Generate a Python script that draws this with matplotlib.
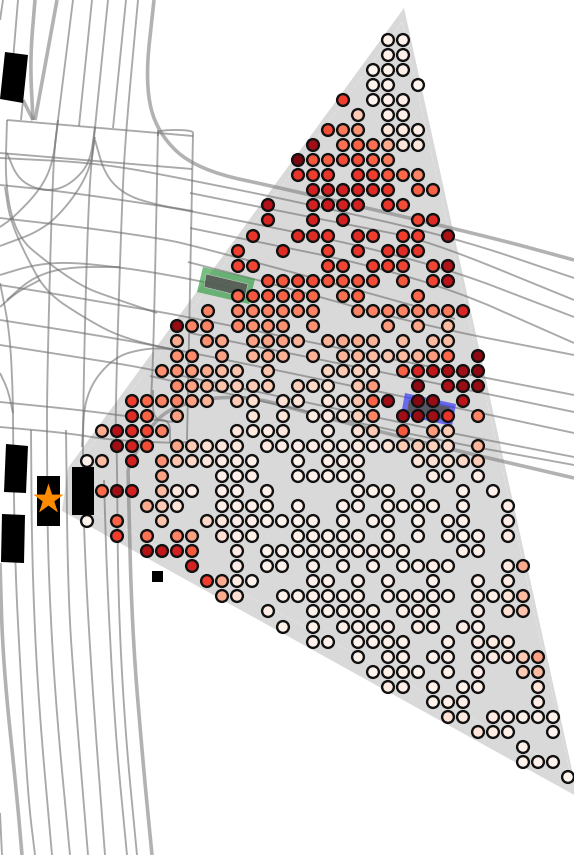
import numpy as np
import matplotlib
matplotlib.use('Agg')
import matplotlib.pyplot as plt
from matplotlib.patches import Polygon

# every position is in picture pixels, the axes simply run 0-574 / 855-0
row_y = [40, 55, 70, 85, 100, 115, 130, 145, 160, 175, 190, 205, 220, 236, 251, 266, 281, 296, 311, 326,
         341, 356, 371, 386, 401, 416, 431, 446, 461, 476, 491, 506, 521, 536, 551, 566, 581, 596, 611, 627,
         642, 657, 672, 687, 702, 717, 732, 747, 762, 777]

row_x = [
    [388, 403],
    [388, 403],
    [373, 388, 403],
    [373, 388, 418],
    [343, 373, 388, 403],
    [358, 388, 403],
    [328, 343, 358, 388, 403, 418],
    [313, 343, 358, 373, 388, 403, 418],
    [298, 313, 328, 343, 358, 373, 388],
    [298, 313, 328, 358, 373, 388, 403, 418],
    [313, 328, 343, 358, 373, 388, 418, 433],
    [268, 313, 328, 343, 358, 388, 403],
    [268, 313, 343, 418, 433],
    [253, 298, 313, 328, 358, 373, 403, 418, 448],
    [238, 283, 328, 358, 388, 403, 418],
    [238, 253, 328, 343, 373, 388, 403, 433, 448],
    [268, 283, 298, 313, 328, 343, 358, 373, 403, 433, 448],
    [238, 253, 268, 283, 298, 313, 343, 358, 418],
    [208, 238, 253, 268, 283, 298, 313, 358, 373, 388, 403, 418, 433, 448, 463],
    [177, 192, 207, 238, 253, 268, 283, 313, 388, 418, 448],
    [177, 207, 222, 253, 268, 283, 298, 328, 343, 358, 373, 403, 433, 448],
    [177, 192, 222, 253, 268, 283, 313, 343, 358, 373, 388, 403, 418, 433, 448, 478],
    [162, 177, 192, 207, 222, 237, 268, 328, 343, 358, 373, 403, 418, 433, 448, 463, 478],
    [177, 192, 207, 222, 237, 253, 268, 298, 313, 328, 358, 373, 418, 448, 463, 478],
    [132, 147, 162, 177, 192, 207, 237, 253, 283, 298, 328, 343, 358, 373, 388, 418, 433, 463],
    [132, 147, 177, 253, 283, 313, 328, 343, 358, 373, 403, 418, 433, 448, 478],
    [102, 117, 132, 147, 162, 237, 253, 268, 283, 328, 358, 373, 403, 433, 448],
    [117, 132, 147, 177, 192, 207, 222, 237, 267, 282, 298, 313, 328, 343, 358, 373, 388, 403, 418, 433, 448, 478],
    [87, 102, 132, 162, 177, 192, 207, 222, 237, 252, 298, 328, 343, 358, 418, 433, 448, 463, 478],
    [162, 222, 237, 252, 298, 313, 328, 343, 358, 433, 448, 478],
    [102, 117, 132, 162, 177, 192, 222, 237, 267, 358, 373, 388, 418, 463, 493],
    [147, 162, 177, 222, 237, 252, 267, 298, 343, 358, 388, 403, 418, 433, 463, 508],
    [87, 117, 162, 207, 222, 237, 252, 267, 282, 298, 313, 343, 373, 388, 418, 448, 463, 508],
    [117, 147, 177, 192, 222, 237, 252, 298, 313, 328, 343, 358, 388, 418, 448, 463, 478, 508],
    [147, 162, 177, 192, 237, 267, 282, 298, 313, 328, 343, 358, 373, 388, 403, 463, 478],
    [192, 237, 267, 282, 313, 343, 373, 403, 418, 433, 448, 508, 523],
    [207, 222, 237, 252, 313, 328, 358, 388, 433, 478, 508],
    [222, 237, 283, 298, 313, 328, 343, 358, 388, 403, 418, 433, 448, 478, 493, 508, 523],
    [268, 313, 328, 343, 358, 373, 403, 418, 433, 478, 508, 523],
    [283, 313, 343, 358, 373, 388, 418, 433, 463, 478],
    [313, 328, 358, 373, 388, 403, 448, 478, 493, 508],
    [358, 388, 403, 433, 448, 478, 493, 508, 523, 538],
    [373, 388, 403, 418, 448, 478, 523, 538],
    [388, 403, 433, 463, 478, 538],
    [433, 448, 463, 538],
    [448, 463, 493, 508, 523, 538, 553],
    [478, 493, 508, 553],
    [523],
    [523, 538, 553],
    [568],
]

row_v = [
    [.03, .02],
    [.03, .03],
    [.01, .02, .03],
    [.02, .02, .01],
    [.62, .01, .03, .04],
    [.2, .03, .03],
    [.58, .45, .38, .1, .06, .05],
    [.88, .48, .52, .48, .3, .1, .08],
    [.95, .55, .53, .58, .58, .52, .45],
    [.65, .62, .65, .65, .62, .55, .5, .42],
    [.72, .72, .72, .7, .68, .65, .52, .52],
    [.83, .72, .75, .72, .72, .65, .58],
    [.7, .72, .72, .6, .68],
    [.65, .68, .68, .65, .68, .62, .62, .62, .85],
    [.62, .68, .62, .65, .65, .68, .65],
    [.6, .6, .6, .6, .62, .62, .6, .6, .83],
    [.58, .55, .58, .58, .55, .55, .55, .58, .55, .6, .8],
    [.5, .55, .55, .52, .52, .5, .48, .52, .5],
    [.42, .42, .42, .42, .42, .42, .42, .42, .42, .42, .42, .42, .42, .45, .7],
    [.9, .42, .42, .42, .38, .38, .38, .38, .35, .32, .25],
    [.3, .38, .32, .33, .33, .33, .28, .28, .3, .3, .27, .25, .25, .25],
    [.38, .4, .33, .28, .3, .28, .28, .27, .27, .25, .22, .25, .28, .35, .5, .92],
    [.38, .38, .35, .3, .25, .22, .22, .17, .2, .18, .15, .52, .7, .78, .85, .88, .92],
    [.4, .33, .27, .22, .2, .2, .2, .18, .15, .12, .22, .35, .92, .85, .9, .9],
    [.62, .5, .42, .42, .33, .27, .2, .13, .12, .1, .08, .12, .22, .52, .88, .93, .9, .8],
    [.68, .52, .33, .1, .1, .05, .07, .1, .18, .42, .88, .9, .88, .65, .42],
    [.3, .82, .68, .6, .43, .08, .06, .05, .08, .05, .12, .2, .55, .35, .2],
    [.88, .72, .58, .32, .2, .12, .08, .08, .06, .05, .04, .05, .05, .05, .06, .07, .1, .2, .2, .18, .15, .27],
    [.03, .25, .72, .38, .22, .15, .08, .05, .05, .03, .02, .03, .03, .04, .1, .12, .1, .15, .2],
    [.33, .03, .03, .04, .02, .02, .02, .02, .02, .05, .05, .05],
    [.5, .88, .72, .25, .08, .04, .03, .02, .03, .02, .02, .02, .02, .02, .02],
    [.3, .2, .1, .03, .03, .03, .02, .02, .02, .03, .03, .02, .02, .02, .02, .05],
    [.01, .52, .22, .15, .08, .04, .03, .02, .01, .02, .02, .02, .02, .02, .02, .02, .02, .05],
    [.62, .48, .42, .33, .12, .04, .03, .02, .02, .02, .03, .03, .02, .02, .02, .02, .03, .06],
    [.82, .78, .72, .55, .06, .02, .02, .02, .02, .02, .02, .03, .03, .02, .02, .02, .03],
    [.72, .05, .02, .02, .03, .02, .02, .02, .03, .03, .02, .07, .3],
    [.62, .3, .06, .02, .03, .03, .03, .03, .02, .03, .06],
    [.3, .12, .02, .02, .02, .02, .02, .02, .03, .03, .03, .03, .02, .05, .03, .1, .25],
    [.05, .02, .02, .02, .02, .02, .03, .03, .02, .05, .12, .22],
    [.02, .02, .04, .03, .03, .04, .05, .03, .05, .03],
    [.03, .02, .02, .02, .03, .02, .03, .05, .06, .06],
    [.02, .04, .03, .02, .03, .05, .06, .08, .2, .33],
    [.01, .03, .03, .01, .02, .03, .2, .25],
    [.06, .04, .02, .02, .03, .1],
    [.02, .03, .04, .05],
    [.12, .07, .06, .04, .02, .03, .02],
    [.1, .05, .03, .01],
    [.02],
    [.02, .03, .02],
    [.01],
]

# field of view
fov_outer = [(404, 8), (578, 797), (62, 511), (68, 468)]
fov_inner = [(402, 22), (570, 772), (84, 506), (74, 470)]

# road centre lines
thin_roads = [
    [(18, 0), (13, 60)],
    [(3, 0), (0, 20)],
    [(21, 120), (23, 100)],
    [(7, 120), (193, 136)],
    [(158, 136), (158, 130), (193, 130), (193, 136), (187, 440)],
    [(73, 0), (58, 120), (53, 160), (47, 380), (47, 460), (48, 563), (55, 697), (70, 855)],
    [(92, 0), (79, 126)],
    [(108, 0), (95, 127), (88, 200), (82, 450), (85, 563), (93, 697), (105, 855)],
    [(126, 0), (113, 128)],
    [(138, 0), (126, 130), (122, 200), (115, 420), (117, 447), (118, 597), (125, 730), (137, 855)],
    [(158, 130), (155, 280), (153, 360), (151, 400)],
    [(7, 120), (5, 187), (17, 237), (48, 263), (83, 287), (110, 297), (157, 313)],
    [(5, 187), (10, 220), (28, 260), (47, 293), (83, 317), (120, 337), (173, 350)],
    [(7, 153), (17, 177), (33, 188), (53, 191), (72, 183), (90, 163), (95, 127)],
    [(58, 120), (53, 163), (40, 190), (13, 218), (0, 227)],
    [(95, 137), (90, 170), (70, 203), (43, 230), (0, 246)],
    [(95, 140), (105, 175), (125, 195), (157, 205), (193, 211)],
    [(0, 153), (192, 169)],
    [(0, 158), (100, 163), (190, 180), (303, 203), (453, 237), (574, 278)],
    [(190, 193), (360, 227), (427, 240), (574, 300)],
    [(0, 185), (50, 190), (122, 200), (193, 211), (420, 258), (574, 317)],
    [(190, 228), (420, 275), (574, 343)],
    [(0, 218), (88, 228), (157, 238), (192, 245), (420, 307), (455, 319)],
    [(188, 262), (277, 285), (420, 325), (574, 355)],
    [(0, 275), (33, 265), (67, 262), (117, 267), (157, 273), (205, 282), (248, 292)],
    [(7, 300), (33, 277), (67, 267), (120, 267)],
    [(0, 285), (50, 293), (107, 303), (190, 317), (420, 365), (574, 395)],
    [(0, 320), (83, 333), (170, 348), (453, 407), (574, 433)],
    [(190, 333), (420, 380), (574, 412)],
    [(0, 345), (83, 358), (157, 370), (420, 427), (574, 457)],
    [(150, 376), (420, 437), (574, 465)],
    [(82, 447), (85, 393), (113, 357), (147, 348), (173, 349)],
    [(0, 402), (80, 410), (133, 417), (173, 422)],
    [(0, 427), (67, 433), (110, 440), (170, 443), (190, 442)],
    [(153, 390), (153, 420), (170, 420), (170, 443)],
    [(0, 283), (10, 333), (13, 400), (13, 430), (15, 563), (20, 663), (28, 797), (35, 855)],
    [(0, 307), (17, 292), (40, 280)],
    [(0, 373), (8, 390), (13, 413)],
    [(31, 430), (32, 563), (38, 697), (52, 855)],
    [(66, 430), (68, 597), (75, 697), (88, 855)],
    [(104, 480), (107, 580), (115, 730), (127, 855)],
    [(0, 813), (2, 855)],
]
thick_roads = [
    [(35, 0), (30, 60), (33, 120)],
    [(57, 0), (43, 77), (35, 120)],
    [(23, 100), (33, 120)],
    [(154, 0), (145, 83), (157, 133), (197, 170), (290, 190), (490, 237), (574, 260)],
    [(128, 470), (133, 457), (153, 423), (173, 407), (213, 397), (257, 398), (297, 410), (420, 442), (574, 478)],
    [(128, 470), (132, 630), (143, 763), (152, 855)],
    [(0, 563), (3, 663), (17, 797), (22, 855)],
]

green_box = [(203, 267), (255, 279), (249, 304), (197, 292)]
green_car = [(206, 274), (248, 284), (245, 297), (204, 287)]
blue_box = [(405, 393), (456, 404), (452, 426), (401, 415)]
blue_car = [(409, 400), (450, 407), (447, 420), (407, 413)]
black_cars = [
    [(5, 52), (28, 55), (23, 103), (0, 99)],
    [(6, 444), (28, 446), (26, 493), (4, 492)],
    [(37, 476), (60, 476), (60, 526), (37, 526)],
    [(72, 467), (94, 467), (94, 515), (72, 515)],
    [(2, 514), (25, 515), (24, 563), (1, 562)],
    [(152, 571), (163, 571), (163, 582), (152, 582)],
]
ego_x = 48
ego_y = 499


def smooth(pts, n=3):
    # chaikin corner cutting, ends stay where they are
    pts = np.array(pts, dtype=float)
    for _ in range(n):
        q = pts[:-1] * 0.75 + pts[1:] * 0.25
        r = pts[:-1] * 0.25 + pts[1:] * 0.75
        mid = np.empty((len(q) * 2, 2))
        mid[0::2] = q
        mid[1::2] = r
        pts = np.vstack([pts[:1], mid, pts[-1:]])
    return pts


fig = plt.figure(figsize=(5.74, 8.55), dpi=100)
ax = fig.add_axes([0, 0, 1, 1])
ax.set_xlim(0, 574)
ax.set_ylim(855, 0)
ax.axis('off')

ax.add_patch(Polygon(fov_outer, closed=True, fc='#d9d9d9', ec='none', zorder=1))
ax.add_patch(Polygon(fov_inner, closed=True, fc='none', ec='white', lw=0.5, alpha=0.35, ls=(0, (6, 2)), zorder=1.5))

for road in thin_roads:
    p = smooth(road)
    ax.plot(p[:, 0], p[:, 1], color='#707070', lw=1.35, alpha=0.6, solid_capstyle='butt', zorder=2)
for road in thick_roads:
    p = smooth(road)
    ax.plot(p[:, 0], p[:, 1], color='#808080', lw=2.6, alpha=0.6, solid_capstyle='butt', zorder=2)

ax.add_patch(Polygon(green_box, closed=True, fc='#2e9b3e', ec='none', alpha=0.65, zorder=3))
ax.add_patch(Polygon(green_car, closed=True, fc='#555555', ec='#dddddd', lw=0.4, alpha=0.85, zorder=3.1))
ax.add_patch(Polygon(blue_box, closed=True, fc='#3a3af5', ec='none', alpha=0.7, zorder=3))
ax.add_patch(Polygon(blue_car, closed=True, fc='#555555', ec='none', alpha=0.9, zorder=3.1))

xs = []
ys = []
vs = []
for y, cols, vals in zip(row_y, row_x, row_v):
    xs += cols
    ys += [y] * len(cols)
    vs += vals
ax.scatter(xs, ys, c=vs, cmap='Reds', vmin=0, vmax=1, s=72, edgecolors='#111111', linewidths=1.7, zorder=4)

for car in black_cars:
    ax.add_patch(Polygon(car, closed=True, fc='black', ec='none', zorder=5))
ax.scatter([ego_x], [ego_y], marker='*', s=530, c='#ff8c00', linewidths=0, zorder=6)

plt.savefig('out.png', dpi=100)
